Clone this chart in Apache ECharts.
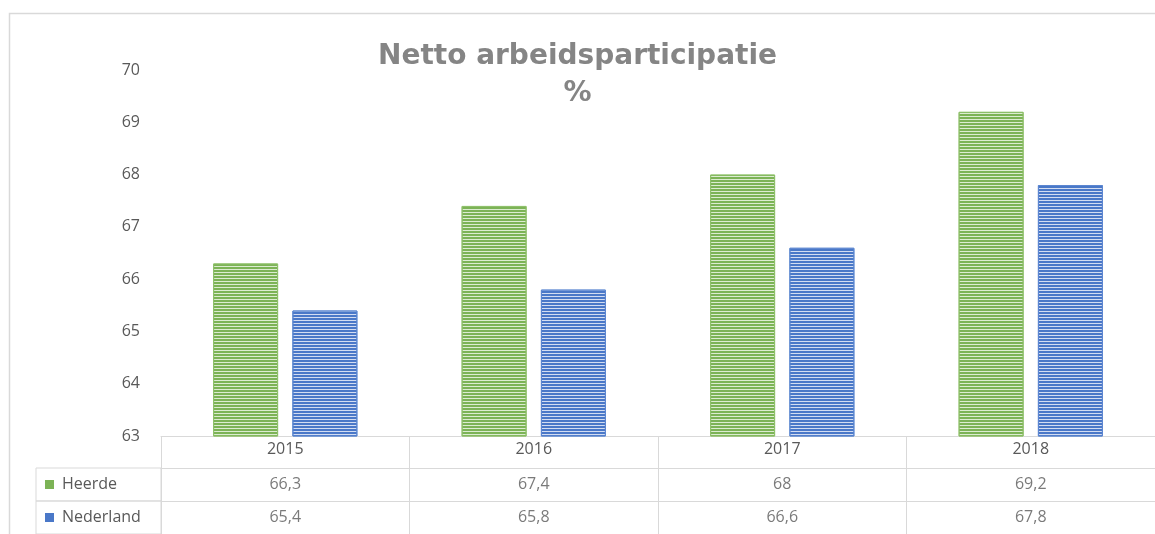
<!DOCTYPE html>
<html>
<head>
<meta charset="utf-8">
<script src="https://cdn.jsdelivr.net/npm/echarts@6/dist/echarts.min.js"></script>
<style>
  html, body { margin: 0; padding: 0; background: #fff; }
  #chart { width: 1155px; height: 534px; }
</style>
</head>
<body>
<div id="chart"></div>
<script>
const years = ['2015', '2016', '2017', '2018']
const heerde = [66.3, 67.4, 68, 69.2]
const nederland = [65.4, 65.8, 66.6, 67.8]
const rows = ['Heerde', 'Nederland']

const textColor = '#595959'
const lineColor = '#d9d9d9'
const green = '#7cb356'
const blue = '#4a78c8'

// comma as decimal separator, like the source table
const fmt = (v) => String(v).replace('.', ',')

const tableCells = []
years.forEach((y, i) => {
  tableCells.push([y, 'Heerde', heerde[i]])
  tableCells.push([y, 'Nederland', nederland[i]])
})

const stripes = (color) => ({
  symbol: 'rect',
  symbolSize: 1,
  dashArrayX: [1, 0],
  dashArrayY: [2, 1],
  rotation: 0,
  color: color,
})

const chart = echarts.init(document.getElementById('chart'))

chart.setOption({
  animation: false,
  backgroundColor: '#fff',
  textStyle: { fontFamily: 'Open Sans' },
  title: {
    text: 'Netto arbeidsparticipatie\n%',
    left: 'center',
    top: 33,
    textStyle: {
      fontFamily: 'DejaVu Sans',
      fontWeight: 'bold',
      fontSize: 28,
      lineHeight: 37,
      color: '#858585',
    },
  },
  graphic: [
    {
      type: 'rect',
      silent: true,
      shape: { x: 9.5, y: 13.5, width: 2000, height: 1000 },
      style: { fill: null, stroke: lineColor, lineWidth: 1.5 },
    },
  ],
  grid: [
    { left: 161, right: -8, top: 70, bottom: 98 },
    { left: 161, right: -8, top: 468, bottom: -2 },
  ],
  xAxis: [
    {
      type: 'category',
      gridIndex: 0,
      data: years,
      axisLine: { lineStyle: { color: lineColor, width: 1 } },
      axisTick: { show: true, length: 32, lineStyle: { color: lineColor } },
      axisLabel: { color: textColor, fontSize: 16, margin: 5 },
    },
    {
      type: 'category',
      gridIndex: 1,
      data: years,
      position: 'top',
      axisLine: { show: true, lineStyle: { color: lineColor } },
      axisTick: { show: false },
      axisLabel: { show: false },
      splitLine: { show: true, lineStyle: { color: lineColor } },
    },
  ],
  yAxis: [
    {
      type: 'value',
      gridIndex: 0,
      min: 63,
      max: 70,
      interval: 1,
      axisLine: { show: false },
      axisTick: { show: false },
      splitLine: { show: false },
      axisLabel: { color: textColor, fontSize: 16, margin: 21 },
    },
    {
      type: 'category',
      gridIndex: 1,
      data: rows,
      inverse: true,
      axisLine: { show: false },
      axisTick: { show: false },
      splitLine: { show: true, lineStyle: { color: lineColor } },
      axisLabel: {
        interval: 0,
        hideOverlap: false,
        margin: 0,
        align: 'right',
        verticalAlign: 'middle',
        width: 116,
        height: 33,
        padding: [0, 0, 0, 9],
        borderColor: lineColor,
        borderWidth: 1,
        formatter: (v) => (v === 'Heerde' ? '{g|}{t|' + v + '}' : '{b|}{t|' + v + '}'),
        rich: {
          g: { align: 'left', width: 9, height: 9, lineHeight: 33, backgroundColor: green },
          b: { align: 'left', width: 9, height: 9, lineHeight: 33, backgroundColor: blue },
          t: { align: 'left', color: textColor, fontSize: 16, lineHeight: 33, padding: [0, 0, 0, 8] },
        },
      },
    },
  ],
  series: [
    {
      name: 'Heerde',
      type: 'bar',
      data: heerde,
      barWidth: 65,
      barGap: '22%',
      itemStyle: {
        color: '#dcecd1',
        borderColor: '#8fc06b',
        borderWidth: 1,
        decal: stripes(green),
      },
    },
    {
      name: 'Nederland',
      type: 'bar',
      data: nederland,
      barWidth: 65,
      barGap: '22%',
      itemStyle: {
        color: '#d3ddf2',
        borderColor: '#5d87d0',
        borderWidth: 1,
        decal: stripes(blue),
      },
    },
    {
      name: 'table',
      type: 'scatter',
      xAxisIndex: 1,
      yAxisIndex: 1,
      symbolSize: 0,
      silent: true,
      data: tableCells,
      label: {
        show: true,
        position: 'inside',
        color: textColor,
        fontSize: 16,
        formatter: (p) => fmt(p.value[2]),
      },
    },
  ],
})
</script>
</body>
</html>
